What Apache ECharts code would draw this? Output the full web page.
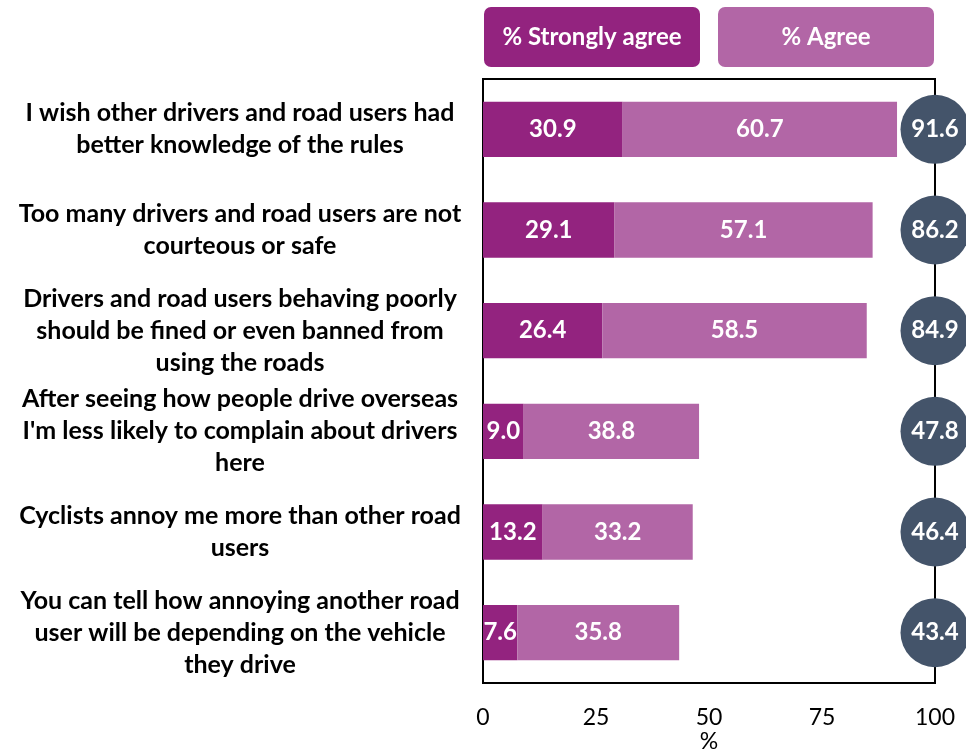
<!DOCTYPE html>
<html>
<head>
<meta charset="utf-8">
<script src="https://cdn.jsdelivr.net/npm/echarts@6/dist/echarts.min.js"></script>
<style>
  html, body { margin: 0; padding: 0; background: #fff; }
  #chart { width: 966px; height: 751px; }
</style>
</head>
<body>
<div id="chart"></div>
<script>
  const statements = [
    'I wish other drivers and road users had\nbetter knowledge of the rules',
    'Too many drivers and road users are not\ncourteous or safe',
    'Drivers and road users behaving poorly\nshould be fined or even banned from\nusing the roads',
    "After seeing how people drive overseas\nI'm less likely to complain about drivers\nhere",
    'Cyclists annoy me more than other road\nusers',
    'You can tell how annoying another road\nuser will be depending on the vehicle\nthey drive'
  ];
  const stronglyAgree = [30.9, 29.1, 26.4, 9.0, 13.2, 7.6];
  const agree = [60.7, 57.1, 58.5, 38.8, 33.2, 35.8];
  const totals = [91.6, 86.2, 84.9, 47.8, 46.4, 43.4];
  const xTicks = [0, 25, 50, 75, 100];

  const FONT = 'Lato, "Open Sans", sans-serif';
  const DARK = '#93237F';
  const LIGHT = '#B266A6';
  const SLATE = '#44546A';

  const chart = echarts.init(document.getElementById('chart'));

  const legendBox = (color) => ({
    rich: {
      box: {
        color: '#fff',
        fontFamily: FONT,
        fontSize: 24,
        fontWeight: 'bold',
        width: 216,
        height: 60,
        lineHeight: 60,
        align: 'center',
        backgroundColor: color,
        borderRadius: 7
      }
    }
  });

  const valueLabel = {
    show: true,
    position: 'inside',
    color: '#fff',
    fontFamily: FONT,
    fontSize: 24,
    fontWeight: 'bold'
  };

  const option = {
    animation: false,
    legend: {
      left: 479,
      top: 7,
      padding: 0,
      icon: 'none',
      itemWidth: 0,
      itemHeight: 0,
      itemGap: 13,
      selectedMode: false,
      formatter: '{box|{name}}',
      data: [
        { name: '% Strongly agree', textStyle: legendBox(DARK) },
        { name: '% Agree', textStyle: legendBox(LIGHT) }
      ]
    },
    grid: {
      left: 483,
      right: 31,
      top: 79,
      bottom: 68,
      outerBoundsMode: 'none',
      containLabel: false,
      show: true,
      borderColor: '#000',
      borderWidth: 2,
      backgroundColor: 'transparent'
    },
    xAxis: {
      type: 'value',
      min: xTicks[0],
      max: xTicks[xTicks.length - 1],
      interval: 25,
      name: '%',
      nameLocation: 'middle',
      nameGap: 47,
      nameMoveOverlap: false,
      nameTextStyle: { fontFamily: FONT, fontSize: 23, color: '#000', verticalAlign: 'top' },
      axisLine: { show: false },
      axisTick: { show: false },
      splitLine: { show: false },
      axisLabel: { fontFamily: FONT, fontSize: 23, color: '#000', margin: 23 }
    },
    yAxis: {
      type: 'category',
      inverse: true,
      data: statements,
      axisLine: { show: false },
      axisTick: { show: false },
      axisLabel: {
        fontFamily: FONT,
        fontSize: 25,
        fontWeight: 'bold',
        color: '#000',
        lineHeight: 32,
        align: 'center',
        margin: 243
      }
    },
    series: [
      {
        name: '% Strongly agree',
        type: 'bar',
        stack: 'total',
        barWidth: '55%',
        itemStyle: { color: DARK },
        label: Object.assign({ formatter: (p) => p.value.toFixed(1) }, valueLabel),
        data: stronglyAgree
      },
      {
        name: '% Agree',
        type: 'bar',
        stack: 'total',
        itemStyle: { color: LIGHT },
        label: Object.assign({ formatter: (p) => p.value.toFixed(1) }, valueLabel),
        data: agree
      },
      {
        name: 'Total',
        type: 'scatter',
        clip: false,
        symbolSize: 69,
        itemStyle: { color: SLATE, opacity: 1 },
        label: Object.assign({ formatter: (p) => totals[p.dataIndex].toFixed(1) }, valueLabel),
        data: totals.map((t, i) => [100, i])
      }
    ]
  };

  chart.setOption(option);
</script>
</body>
</html>
